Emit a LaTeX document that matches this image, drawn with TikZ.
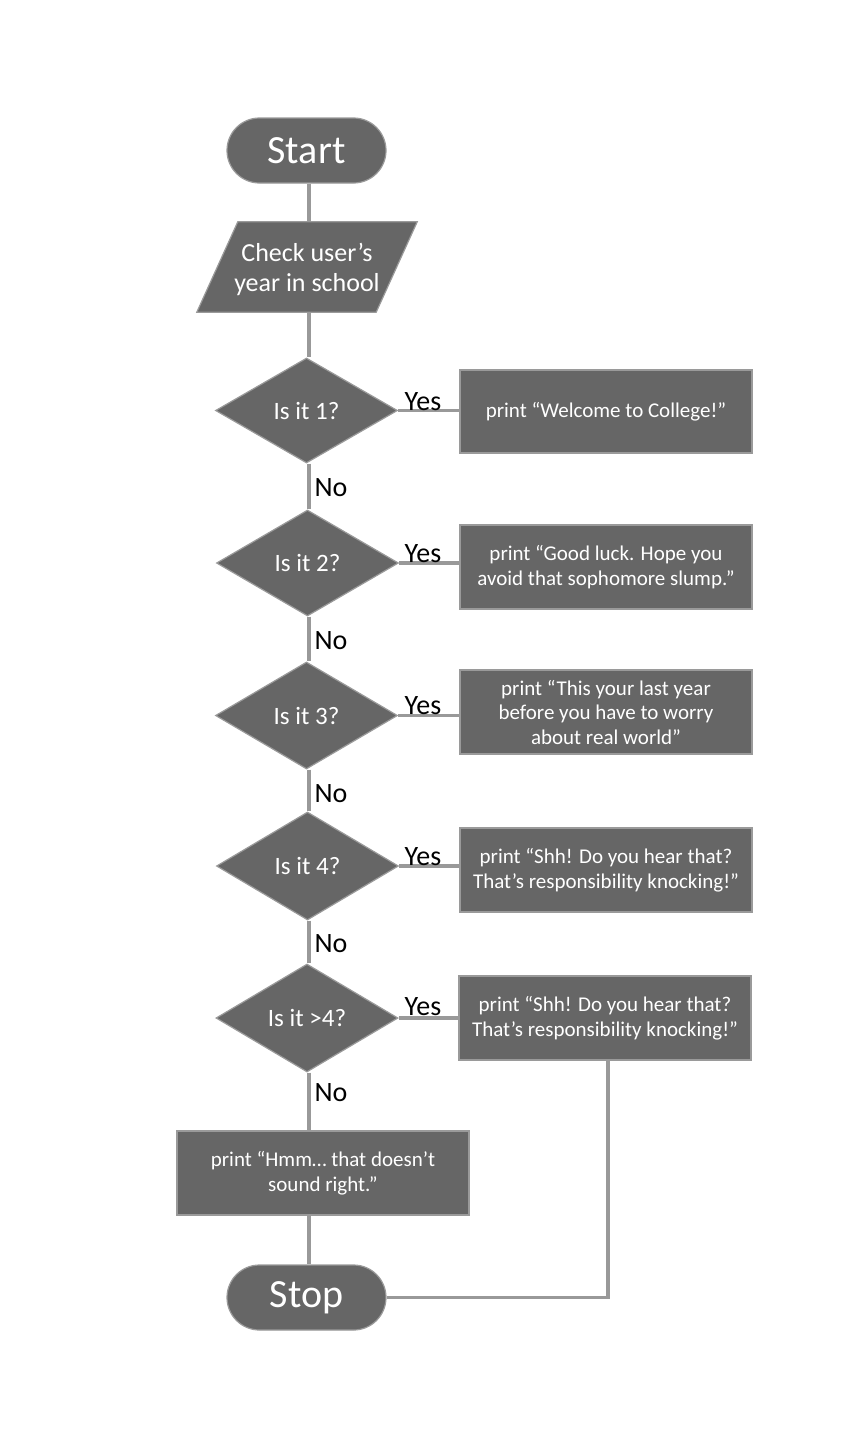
\documentclass[tikz,border=0pt]{standalone}
\usepackage{fontspec}
\setmainfont{Carlito}
\usetikzlibrary{shapes.geometric,shapes.misc,calc}
\definecolor{nodefill}{HTML}{666666}
\definecolor{nodeedge}{HTML}{9A9A9A}
\definecolor{linkgray}{HTML}{999999}
\tikzset{
  term/.style={rounded rectangle, fill=nodefill, draw=nodeedge, line width=1.2pt, text=white, minimum width=159pt, minimum height=65pt, inner sep=0pt, font=\fontsize{40}{44}\selectfont},
  decide/.style={diamond, fill=nodefill, draw=nodeedge, line width=1.2pt, text=white, minimum width=182pt, minimum height=106pt, inner sep=0pt, font=\fontsize{25}{29}\selectfont},
  outbox/.style={rectangle, fill=nodefill, draw=nodeedge, line width=1.2pt, text=white, minimum width=292pt, minimum height=84pt, inner sep=0pt, align=center, font=\fontsize{21}{24.5}\selectfont},
  lbl/.style={font=\fontsize{28}{32}\selectfont, text=black, inner sep=0pt},
  link/.style={draw=linkgray, line width=3.5pt},
}
\begin{document}
\begin{tikzpicture}[x=1pt,y=-1pt]
\useasboundingbox[fill=white] (0,0) rectangle (863,1435);
% nodes
\node[term] (start) at (306.5,150.5) {Start};
\node[rectangle, minimum width=179pt, minimum height=90pt, inner sep=0pt] (chk) at (307,267) {};
\fill[nodefill, draw=nodeedge, line width=1.2pt] ($(chk.south west)+(-20.5,0)$) -- ($(chk.south east)+(-20.5,0)$) -- ($(chk.north east)+(20.5,0)$) -- ($(chk.north west)+(20.5,0)$) -- cycle;
\node[align=center, text=white, font=\fontsize{26}{30}\selectfont] (chktext) at ($(chk.center)+(0,2)$) {Check user’s\\year in school};

\node[decide, minimum height=105pt] (d1) at (306.5,410.5) {Is it 1?};
\node[decide] (d2) at (307.5,563) {Is it 2?};
\node[decide, minimum height=107pt] (d3) at (306.5,715.5) {Is it 3?};
\node[decide, minimum height=108pt] (d4) at (307.5,866) {Is it 4?};
\node[decide, minimum height=108pt] (d5) at (307,1018) {Is it >4?};

\node[outbox, minimum height=83pt] (b1) at (606,411.5) {print “Welcome to College!”};
\node[outbox] (b2) at (606,567) {print “Good luck. Hope you\\avoid that sophomore slump.”};
\node[outbox] (b3) at (606,712) {print “This your last year\\before you have to worry\\about real world”};
\node[outbox] (b4) at (606,870) {print “Shh! Do you hear that?\\That’s responsibility knocking!”};
\node[outbox] (b5) at (605,1018) {print “Shh! Do you hear that?\\That’s responsibility knocking!”};
\node[outbox] (b6) at (323,1173) {print “Hmm… that doesn’t\\sound right.”};

\node[term] (stop) at (306.5,1297.5) {Stop};

% connectors
\coordinate (col) at (309,0);
\draw[link] (start.south -| col) -- (chk.north -| col);
\draw[link] (chk.south -| col) -- (d1.north -| col);
\draw[link] (d1.south -| col) -- (d2.north -| col);
\draw[link] (d2.south -| col) -- (d3.north -| col);
\draw[link] (d3.south -| col) -- (d4.north -| col);
\draw[link] (d4.south -| col) -- (d5.north -| col);
\draw[link] (d5.south -| col) -- (b6.north -| col);
\draw[link] (b6.south -| col) -- (stop.north -| col);

\draw[link] (d1.east) -- (d1.east -| b1.west);
\draw[link] (d2.east) -- (d2.east -| b2.west);
\draw[link] (d3.east) -- (d3.east -| b3.west);
\draw[link] (d4.east) -- (d4.east -| b4.west);
\draw[link] (d5.east) -- (d5.east -| b5.west);
\coordinate (ret) at (608,0);
\draw[link] (b5.south -| ret) |- (stop.east);

% labels
\node[lbl] (y1) at (423,402) {Yes};
\node[lbl] (y2) at (423,554) {Yes};
\node[lbl] (y3) at (423,706) {Yes};
\node[lbl] (y4) at (423,857) {Yes};
\node[lbl] (y5) at (423,1007) {Yes};
\node[lbl] (n1) at (331,488) {No};
\node[lbl] (n2) at (331,641) {No};
\node[lbl] (n3) at (331,794) {No};
\node[lbl] (n4) at (331,944) {No};
\node[lbl] (n5) at (331,1093) {No};
\end{tikzpicture}
\end{document}
